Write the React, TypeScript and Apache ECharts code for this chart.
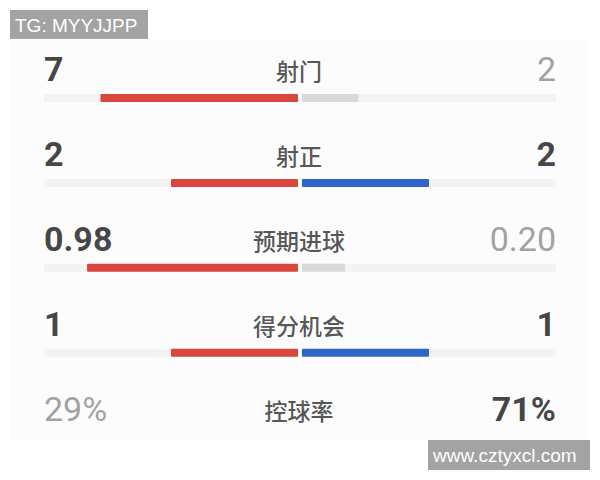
import { useEffect, useRef } from 'react';
import * as echarts from 'echarts';

// match stats, home on the left, away on the right
const categories = ['射门', '射正', '预期进球', '得分机会', '控球率'];
const homeValues = [7, 2, 0.98, 1, 29];
const awayValues = [2, 2, 0.2, 1, 71];
const homeLabels = ['7', '2', '0.98', '1', '29%'];
const awayLabels = ['2', '2', '0.20', '1', '71%'];
// the possession bar is cut off at the bottom of the screenshot
const barRows = [true, true, true, true, false];

const RED = '#d8463d';
const BLUE = '#2f64cb';
const GREY_BAR = '#d9d9d9';
const TRACK = '#f3f3f3';
const DARK = '#141414';
const GREY_TEXT = '#8a8a8a';

const NUM_FONT = 'Roboto, "Liberation Sans", sans-serif';

export default function App() {
    const chartRef = useRef<HTMLDivElement>(null);

    useEffect(() => {
        const myChart = echarts.init(chartRef.current, null, { renderer: 'svg' });

        const share = (i: number, v: number) =>
            barRows[i] ? v / (homeValues[i] + awayValues[i]) : null;
        const track = barRows.map((b) => (b ? 1 : null));

        const yAxisBase = {
            type: 'category' as const,
            data: categories,
            inverse: true,
            show: false,
        };
        const gridTop = 55.6;
        const gridHeight = 86.75 * categories.length;

        const textColor = (mine: number, other: number) => (mine >= other ? DARK : GREY_TEXT);
        const textWeight = (mine: number, other: number) => (mine >= other ? 'bold' : 'normal');

        const textSeries = (name: string, x: number, labels: string[], align: string, mine: number[], other: number[]) => ({
            name,
            type: 'scatter',
            xAxisIndex: 2,
            yAxisIndex: 2,
            symbolSize: 0,
            itemStyle: { color: 'rgba(0,0,0,0)' },
            data: labels.map((t, i) => ({
                value: [x, i],
                label: {
                    show: true,
                    position: 'inside',
                    align,
                    offset: [0, -29],
                    formatter: t,
                    fontFamily: NUM_FONT,
                    fontSize: 34,
                    fontWeight: textWeight(mine[i], other[i]),
                    color: textColor(mine[i], other[i]),
                },
            })),
        });

        myChart.setOption({
            animation: false,
            backgroundColor: '#ffffff',
            grid: [
                { left: 44, width: 254, top: gridTop, height: gridHeight },
                { left: 302, width: 254, top: gridTop, height: gridHeight },
                { left: 44, width: 512, top: gridTop, height: gridHeight },
            ],
            xAxis: [
                { gridIndex: 0, type: 'value', min: 0, max: 1, inverse: true, show: false },
                { gridIndex: 1, type: 'value', min: 0, max: 1, show: false },
                { gridIndex: 2, type: 'value', min: -1, max: 1, show: false },
            ],
            yAxis: [
                { ...yAxisBase, gridIndex: 0 },
                { ...yAxisBase, gridIndex: 1 },
                { ...yAxisBase, gridIndex: 2 },
            ],
            graphic: [
                {
                    type: 'rect',
                    z: -10,
                    shape: { x: 10, y: 40, width: 578, height: 400 },
                    style: { fill: '#fcfcfc' },
                },
                {
                    type: 'group',
                    z: 100,
                    children: [
                        {
                            type: 'rect',
                            shape: { x: 10, y: 10, width: 138, height: 29 },
                            style: { fill: '#a3a3a3' },
                        },
                        {
                            type: 'text',
                            x: 15,
                            y: 25,
                            style: {
                                text: 'TG: MYYJJPP',
                                fill: '#ffffff',
                                font: '19px "Liberation Sans", Arial, sans-serif',
                                verticalAlign: 'middle',
                            },
                        },
                        {
                            type: 'rect',
                            shape: { x: 428, y: 440, width: 162, height: 30 },
                            style: { fill: '#a3a3a3' },
                        },
                        {
                            type: 'text',
                            x: 433,
                            y: 455,
                            style: {
                                text: 'www.cztyxcl.com',
                                fill: '#ffffff',
                                font: '19px "Liberation Sans", Arial, sans-serif',
                                verticalAlign: 'middle',
                            },
                        },
                    ],
                },
            ],
            series: [
                {
                    name: 'homeTrack',
                    type: 'bar',
                    xAxisIndex: 0,
                    yAxisIndex: 0,
                    barWidth: 8,
                    barGap: '-100%',
                    silent: true,
                    itemStyle: { color: TRACK },
                    data: track,
                },
                {
                    name: 'home',
                    type: 'bar',
                    xAxisIndex: 0,
                    yAxisIndex: 0,
                    barWidth: 8,
                    barGap: '-100%',
                    data: homeValues.map((v, i) => ({
                        value: share(i, v),
                        itemStyle: {
                            color: v >= awayValues[i] ? RED : GREY_BAR,
                            borderRadius: 1,
                        },
                    })),
                },
                {
                    name: 'awayTrack',
                    type: 'bar',
                    xAxisIndex: 1,
                    yAxisIndex: 1,
                    barWidth: 8,
                    barGap: '-100%',
                    silent: true,
                    itemStyle: { color: TRACK },
                    data: track,
                },
                {
                    name: 'away',
                    type: 'bar',
                    xAxisIndex: 1,
                    yAxisIndex: 1,
                    barWidth: 8,
                    barGap: '-100%',
                    data: awayValues.map((v, i) => ({
                        value: share(i, v),
                        itemStyle: {
                            color: v >= homeValues[i] ? BLUE : GREY_BAR,
                            borderRadius: 1,
                        },
                    })),
                },
                textSeries('homeText', -1, homeLabels, 'left', homeValues, awayValues),
                textSeries('awayText', 1, awayLabels, 'right', awayValues, homeValues),
                {
                    name: 'names',
                    type: 'scatter',
                    xAxisIndex: 2,
                    yAxisIndex: 2,
                    symbolSize: 0,
                    itemStyle: { color: 'rgba(0,0,0,0)' },
                    data: categories.map((c, i) => ({
                        value: [0, i],
                        label: {
                            show: true,
                            position: 'inside',
                            align: 'center',
                            offset: [-1, -28],
                            formatter: c,
                            fontFamily: '"Noto Sans CJK SC", sans-serif',
                            fontSize: 23,
                            fontWeight: 500,
                            color: '#2a2a2a',
                        },
                    })),
                },
            ],
        });

        return () => {
            myChart.dispose();
        };
    }, []);

    return (
        <div
            ref={chartRef}
            style={{ position: 'fixed', left: 0, top: 0, width: '600px', height: '480px' }}
        />
    );
}
